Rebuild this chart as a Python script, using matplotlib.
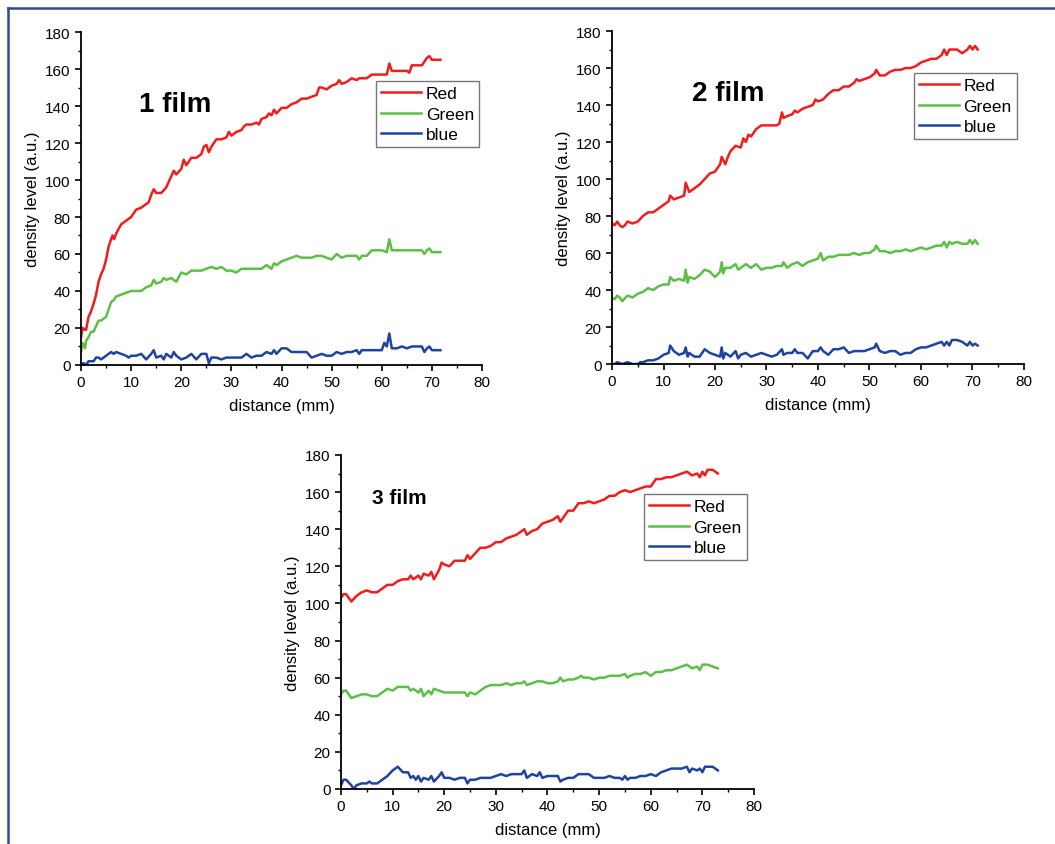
import numpy as np
import matplotlib
matplotlib.use("Agg")
import matplotlib.pyplot as plt
from matplotlib.lines import Line2D
from matplotlib.ticker import MultipleLocator

plt.rcParams['font.family'] = ['Liberation Sans', 'DejaVu Sans']

# ---- film 1 ----
red1 = [(0, 15), (0.3, 20), (0.8, 19), (1, 19), (1.5, 26), (2, 29), (2.5, 33), (3, 38), (3.5, 45), (4, 49),
        (4.5, 52), (5, 57), (5.5, 64), (6, 68), (6.3, 70), (6.6, 68), (7, 71), (8, 76), (9, 78), (10, 80),
        (11, 84), (12, 85), (13, 87), (13.5, 88), (14, 92), (14.5, 95), (15, 93), (16, 93), (17, 96), (18, 102),
        (18.5, 105), (19, 103), (20, 106), (20.5, 111), (21, 108), (22, 112), (23, 112), (24, 114), (24.5, 118),
        (25, 119), (25.5, 115), (26, 118), (27, 122), (28, 122), (29, 123), (29.5, 126), (30, 124), (31, 126),
        (32, 127), (32.5, 129), (33, 130), (34, 130), (35, 131), (35.5, 130), (36, 133), (37, 134), (37.5, 136),
        (38, 135), (38.5, 138), (39, 136), (40, 139), (41, 139), (42, 141), (43, 142), (44, 144), (45, 144),
        (46, 145), (47, 146), (47.5, 150), (48, 150), (49, 149), (50, 151), (51, 152), (51.5, 154), (52, 152),
        (53, 153), (54, 155), (55, 154), (55.5, 155), (56, 155), (57, 155), (58, 157), (59, 157), (60, 157),
        (61, 157), (61.5, 163), (62, 159), (63, 159), (64, 159), (65, 159), (65.5, 158), (66, 162), (67, 162),
        (68, 162), (69, 166), (69.5, 167), (70, 165), (71, 165), (71.7, 165)]
green1 = [(0, 7), (0.3, 12), (0.8, 9), (1, 13), (1.5, 15), (2, 18), (2.5, 18), (3, 21), (3.5, 24), (4, 24),
          (5, 26), (5.5, 30), (6, 34), (6.5, 35), (7, 37), (8, 38), (9, 39), (10, 40), (11, 40), (12, 40),
          (13, 42), (14, 43), (14.5, 46), (15, 44), (16, 45), (16.5, 47), (17, 46), (18, 47), (19, 45), (20, 50),
          (21, 49), (22, 51), (23, 51), (24, 51), (25, 52), (26, 53), (27, 52), (28, 53), (29, 51), (30, 51),
          (31, 50), (32, 52), (33, 52), (34, 52), (35, 52), (36, 52), (37, 54), (38, 52), (38.5, 55), (39, 54),
          (40, 56), (41, 57), (42, 58), (43, 59), (44, 58), (45, 58), (46, 58), (47, 59), (48, 59), (49, 58),
          (50, 57), (51, 60), (52, 58), (53, 59), (54, 59), (55, 59), (55.5, 57), (56, 59), (57, 59), (58, 62),
          (59, 62), (60, 62), (61, 61), (61.5, 68), (62, 62), (63, 62), (64, 62), (65, 62), (66, 62), (67, 62),
          (68, 62), (68.5, 60), (69, 62), (69.5, 63), (70, 61), (71.7, 61)]
blue1 = [(0, 0), (0.5, 1), (1, 0), (1.5, 2), (2, 2), (2.5, 2), (3, 4), (3.5, 4), (4, 3), (5, 5), (5.5, 6),
         (6, 7), (6.5, 6), (7, 7), (8, 6), (9, 5), (9.5, 4), (10, 5), (11, 5), (12, 6), (13, 3), (14, 6),
         (14.5, 8), (15, 4), (16, 5), (16.5, 3), (17, 6), (18, 4), (18.5, 7), (19, 5), (20, 3), (21, 4), (22, 6),
         (23, 3), (24, 6), (25, 6), (25.5, 1), (26, 4), (27, 4), (28, 3), (29, 4), (30, 4), (31, 4), (32, 4),
         (33, 6), (34, 4), (35, 5), (36, 5), (37, 7), (38, 6), (38.5, 8), (39, 6), (40, 9), (41, 9), (42, 7),
         (43, 7), (44, 7), (45, 7), (46, 4), (47, 5), (48, 6), (49, 5), (50, 5), (51, 7), (52, 6), (53, 7),
         (54, 7), (55, 8), (55.5, 6), (56, 8), (57, 8), (58, 8), (59, 8), (60, 8), (60.5, 12), (61, 10),
         (61.5, 17), (62, 9), (63, 9), (64, 10), (65, 9), (66, 10), (67, 10), (68, 10), (68.5, 7), (69, 9),
         (69.5, 10), (70, 8), (71.7, 8)]

# ---- film 2 ----
red2 = [(0, 76), (0.5, 75), (1, 77), (1.5, 75), (2, 74), (2.5, 75), (3, 77), (4, 76), (5, 77), (6, 80),
        (7, 82), (8, 82), (9, 84), (10, 86), (11, 88), (11.3, 91), (12, 89), (13, 90), (14, 91), (14.3, 98),
        (15, 93), (16, 95), (17, 97), (18, 100), (19, 103), (20, 104), (21, 108), (21.3, 112), (22, 108),
        (22.5, 112), (23, 115), (24, 118), (25, 117), (25.5, 122), (26, 120), (26.5, 124), (27, 123), (28, 127),
        (29, 129), (30, 129), (31, 129), (32, 129), (32.5, 130), (33, 136), (33.3, 133), (34, 134), (35, 135),
        (35.5, 137), (36, 136), (37, 138), (38, 139), (39, 140), (39.5, 143), (40, 142), (41, 143), (42, 146),
        (43, 148), (44, 148), (45, 150), (46, 150), (47, 152), (47.5, 154), (48, 153), (49, 154), (50, 155),
        (51, 157), (51.3, 159), (52, 156), (53, 156), (54, 158), (55, 159), (56, 159), (57, 160), (58, 160),
        (59, 161), (60, 163), (61, 164), (62, 165), (63, 165), (64, 167), (64.5, 170), (65, 167), (65.5, 170),
        (66, 170), (67, 170), (68, 168), (69, 170), (69.5, 172), (70, 170), (70.5, 172), (71, 170)]
green2 = [(0, 36), (0.5, 35), (1, 37), (1.5, 36), (2, 34), (3, 37), (4, 36), (5, 38), (6, 39), (7, 41),
          (8, 40), (9, 42), (10, 43), (11, 43), (11.3, 47), (12, 45), (13, 46), (14, 45), (14.3, 51), (14.7, 44),
          (15, 47), (16, 46), (17, 48), (18, 51), (19, 50), (20, 47), (21, 50), (21.3, 55), (21.6, 49), (22, 52),
          (23, 52), (24, 54), (24.5, 51), (25, 52), (26, 54), (27, 52), (28, 54), (29, 51), (30, 52), (31, 52),
          (32, 53), (33, 53), (33.3, 55), (34, 52), (35, 54), (36, 55), (37, 53), (38, 55), (39, 56), (40, 57),
          (40.5, 60), (41, 56), (42, 58), (43, 58), (44, 59), (45, 59), (46, 59), (47, 60), (48, 59), (49, 60),
          (50, 60), (51, 62), (51.3, 64), (52, 61), (53, 61), (54, 60), (55, 61), (56, 61), (57, 62), (58, 61),
          (59, 62), (60, 63), (61, 62), (62, 63), (63, 64), (64, 64), (64.5, 66), (65, 63), (65.5, 66), (66, 65),
          (67, 66), (68, 65), (69, 65), (69.5, 67), (70, 65), (70.5, 67), (71, 65)]
blue2 = [(0, 0), (0.5, 0), (1, 1), (2, 0), (3, 1), (4, 0), (5, 0), (5.5, 1), (6, 1), (7, 2), (8, 2), (9, 3),
         (10, 5), (11, 6), (11.3, 10), (12, 7), (13, 5), (14, 6), (14.3, 9), (14.7, 4), (15, 6), (16, 4), (17, 4),
         (18, 8), (19, 6), (20, 5), (21, 4), (21.3, 9), (21.6, 3), (22, 6), (23, 4), (24, 7), (24.5, 3), (25, 5),
         (26, 6), (27, 4), (28, 5), (29, 6), (30, 5), (31, 4), (32, 5), (33, 8), (33.3, 5), (34, 6), (35, 6),
         (35.5, 8), (36, 6), (37, 6), (38, 3), (39, 7), (40, 7), (40.5, 9), (41, 7), (42, 5), (43, 8), (44, 8),
         (45, 9), (46, 6), (47, 7), (48, 7), (49, 7), (50, 8), (51, 9), (51.3, 11), (52, 7), (53, 6), (54, 7),
         (55, 7), (56, 5), (57, 6), (58, 6), (59, 8), (60, 9), (61, 9), (62, 10), (63, 11), (64, 12), (64.5, 10),
         (65, 12), (65.5, 10), (66, 13), (67, 13), (68, 12), (69, 10), (69.5, 12), (70, 10), (70.5, 11), (71, 10)]

# ---- film 3 ----
red3 = [(0, 103), (0.5, 105), (1, 105), (1.5, 103), (2, 101), (3, 104), (4, 106), (5, 107), (6, 106), (7, 106),
        (8, 108), (9, 110), (10, 110), (11, 112), (12, 113), (13, 113), (13.5, 115), (14, 113), (15, 115),
        (15.5, 113), (16, 116), (17, 115), (17.5, 117), (18, 113), (19, 118), (19.5, 122), (20, 121), (21, 120),
        (22, 123), (23, 123), (24, 123), (24.5, 126), (25, 124), (26, 127), (27, 130), (28, 130), (29, 131),
        (30, 133), (31, 133), (32, 135), (33, 136), (34, 137), (35, 139), (35.5, 140), (36, 137), (37, 139),
        (38, 140), (39, 143), (40, 144), (41, 145), (42, 147), (42.5, 144), (43, 146), (44, 150), (45, 150),
        (46, 154), (47, 154), (48, 155), (49, 154), (50, 155), (51, 156), (52, 158), (53, 158), (54, 160),
        (55, 161), (56, 160), (57, 161), (58, 162), (59, 163), (60, 163), (61, 167), (62, 167), (63, 168),
        (64, 168), (65, 169), (66, 170), (67, 171), (68, 169), (69, 170), (69.5, 168), (70, 171), (70.5, 169),
        (71, 172), (72, 172), (73, 170)]
green3 = [(0, 51), (0.5, 53), (1, 53), (2, 49), (3, 50), (4, 51), (5, 51), (6, 50), (7, 50), (8, 52), (9, 54),
          (10, 53), (11, 55), (12, 55), (13, 55), (13.5, 53), (14, 54), (15, 52), (15.5, 54), (16, 50), (17, 53),
          (17.5, 51), (18, 54), (19, 53), (20, 52), (21, 52), (22, 52), (23, 52), (24, 52), (24.5, 50), (25, 52),
          (26, 51), (27, 53), (28, 55), (29, 56), (30, 56), (31, 56), (32, 57), (33, 56), (34, 57), (35, 57),
          (35.5, 58), (36, 56), (37, 57), (38, 58), (39, 58), (40, 57), (41, 57), (42, 58), (42.5, 60), (43, 58),
          (44, 59), (45, 59), (46, 60), (46.5, 61), (47, 60), (48, 60), (49, 59), (50, 60), (51, 60), (52, 61),
          (53, 61), (54, 61), (55, 62), (55.5, 60), (56, 61), (57, 62), (58, 62), (59, 63), (60, 61), (61, 63),
          (62, 63), (63, 64), (64, 64), (65, 65), (66, 66), (67, 67), (68, 65), (69, 66), (69.5, 64), (70, 67),
          (71, 67), (72, 66), (73, 65)]
blue3 = [(0, 2), (0.5, 5), (1, 5), (2, 2), (2.5, 0), (3, 2), (4, 3), (5, 3), (5.5, 4), (6, 3), (7, 3), (8, 5),
         (9, 7), (10, 10), (11, 12), (12, 9), (13, 9), (13.5, 6), (14, 7), (14.5, 5), (15, 7), (15.5, 4), (16, 6),
         (17, 5), (17.5, 7), (18, 4), (19, 7), (19.5, 9), (20, 6), (21, 6), (22, 5), (23, 6), (24, 6), (24.5, 3),
         (25, 5), (26, 5), (27, 6), (28, 6), (29, 6), (30, 7), (31, 8), (32, 7), (33, 8), (34, 8), (35, 8),
         (35.5, 10), (36, 6), (37, 8), (38, 7), (38.5, 9), (39, 6), (40, 7), (41, 7), (42, 7), (42.5, 4), (43, 5),
         (44, 6), (45, 6), (46, 8), (47, 8), (48, 8), (49, 6), (50, 6), (51, 6), (52, 7), (53, 6), (54, 6),
         (54.5, 5), (55, 7), (55.5, 5), (56, 6), (57, 6), (58, 7), (59, 7), (60, 8), (61, 7), (62, 9), (63, 10),
         (64, 11), (65, 11), (66, 11), (67, 12), (67.5, 9), (68, 11), (69, 10), (69.5, 11), (70, 9), (70.5, 12),
         (71, 12), (72, 12), (73, 10)]

titles = ['1 film', '2 film', '3 film']
labels = ['Red', 'Green', 'blue']
colors = ['#f21c1c', '#5cbf46', '#1f43a0']

fig = plt.figure(figsize=(10.55, 8.45), dpi=100)

# axes rect, series, title spot (x, y in data, font size), legend anchor
panels = [
    ([0.0768, 0.5669, 0.3801, 0.3940], (red1, green1, blue1), (11.6, 141, 20), (0.993, 0.853)),
    ([0.5801, 0.5680, 0.3905, 0.3941], (red2, green2, blue2), (15.5, 146.5, 20), (0.983, 0.874)),
    ([0.3232, 0.0651, 0.3915, 0.3953], (red3, green3, blue3), (6.0, 157, 15), (0.983, 0.883)),
]

for i, (rect, series, tpos, lpos) in enumerate(panels):
    ax = fig.add_axes(rect)
    for s, lab, col in zip(series, labels, colors):
        d = np.array(s)
        ax.plot(d[:, 0], d[:, 1], color=col, lw=1.8, label=lab)
    ax.set_xlim(0, 80)
    ax.set_ylim(0, 180)
    ax.xaxis.set_major_locator(MultipleLocator(10))
    ax.xaxis.set_minor_locator(MultipleLocator(5))
    ax.yaxis.set_major_locator(MultipleLocator(20))
    ax.yaxis.set_minor_locator(MultipleLocator(10))
    ax.spines['top'].set_visible(False)
    ax.spines['right'].set_visible(False)
    for sp in ['left', 'bottom']:
        ax.spines[sp].set_linewidth(1.3)
    ax.tick_params(which='major', direction='out', length=4.5, width=1.2, labelsize=11, pad=3)
    ax.tick_params(which='minor', direction='out', length=2.5, width=1.0)
    ax.set_xlabel('distance (mm)', fontsize=12, labelpad=6)
    ax.set_ylabel('density level (a.u.)', fontsize=12, labelpad=4)
    ax.text(tpos[0], tpos[1], titles[i], fontsize=tpos[2], fontweight='bold', ha='left', va='center')
    leg = ax.legend(loc='upper right', bbox_to_anchor=lpos, fontsize=12.5, frameon=True, fancybox=False,
                    handlelength=2.3, handletextpad=0.25, borderpad=0.3, labelspacing=0.3, borderaxespad=0)
    leg.get_frame().set_edgecolor('#555555')
    leg.get_frame().set_linewidth(1.0)

# blue frame lines along the top and left edge
fig.add_artist(Line2D([8 / 1055, 1], [1 - 9 / 845, 1 - 9 / 845], color='#2c4a9c', lw=1.8))
fig.add_artist(Line2D([8 / 1055, 8 / 1055], [0, 1 - 9 / 845], color='#2c4a9c', lw=1.8))

fig.savefig('out.png', dpi=100)
